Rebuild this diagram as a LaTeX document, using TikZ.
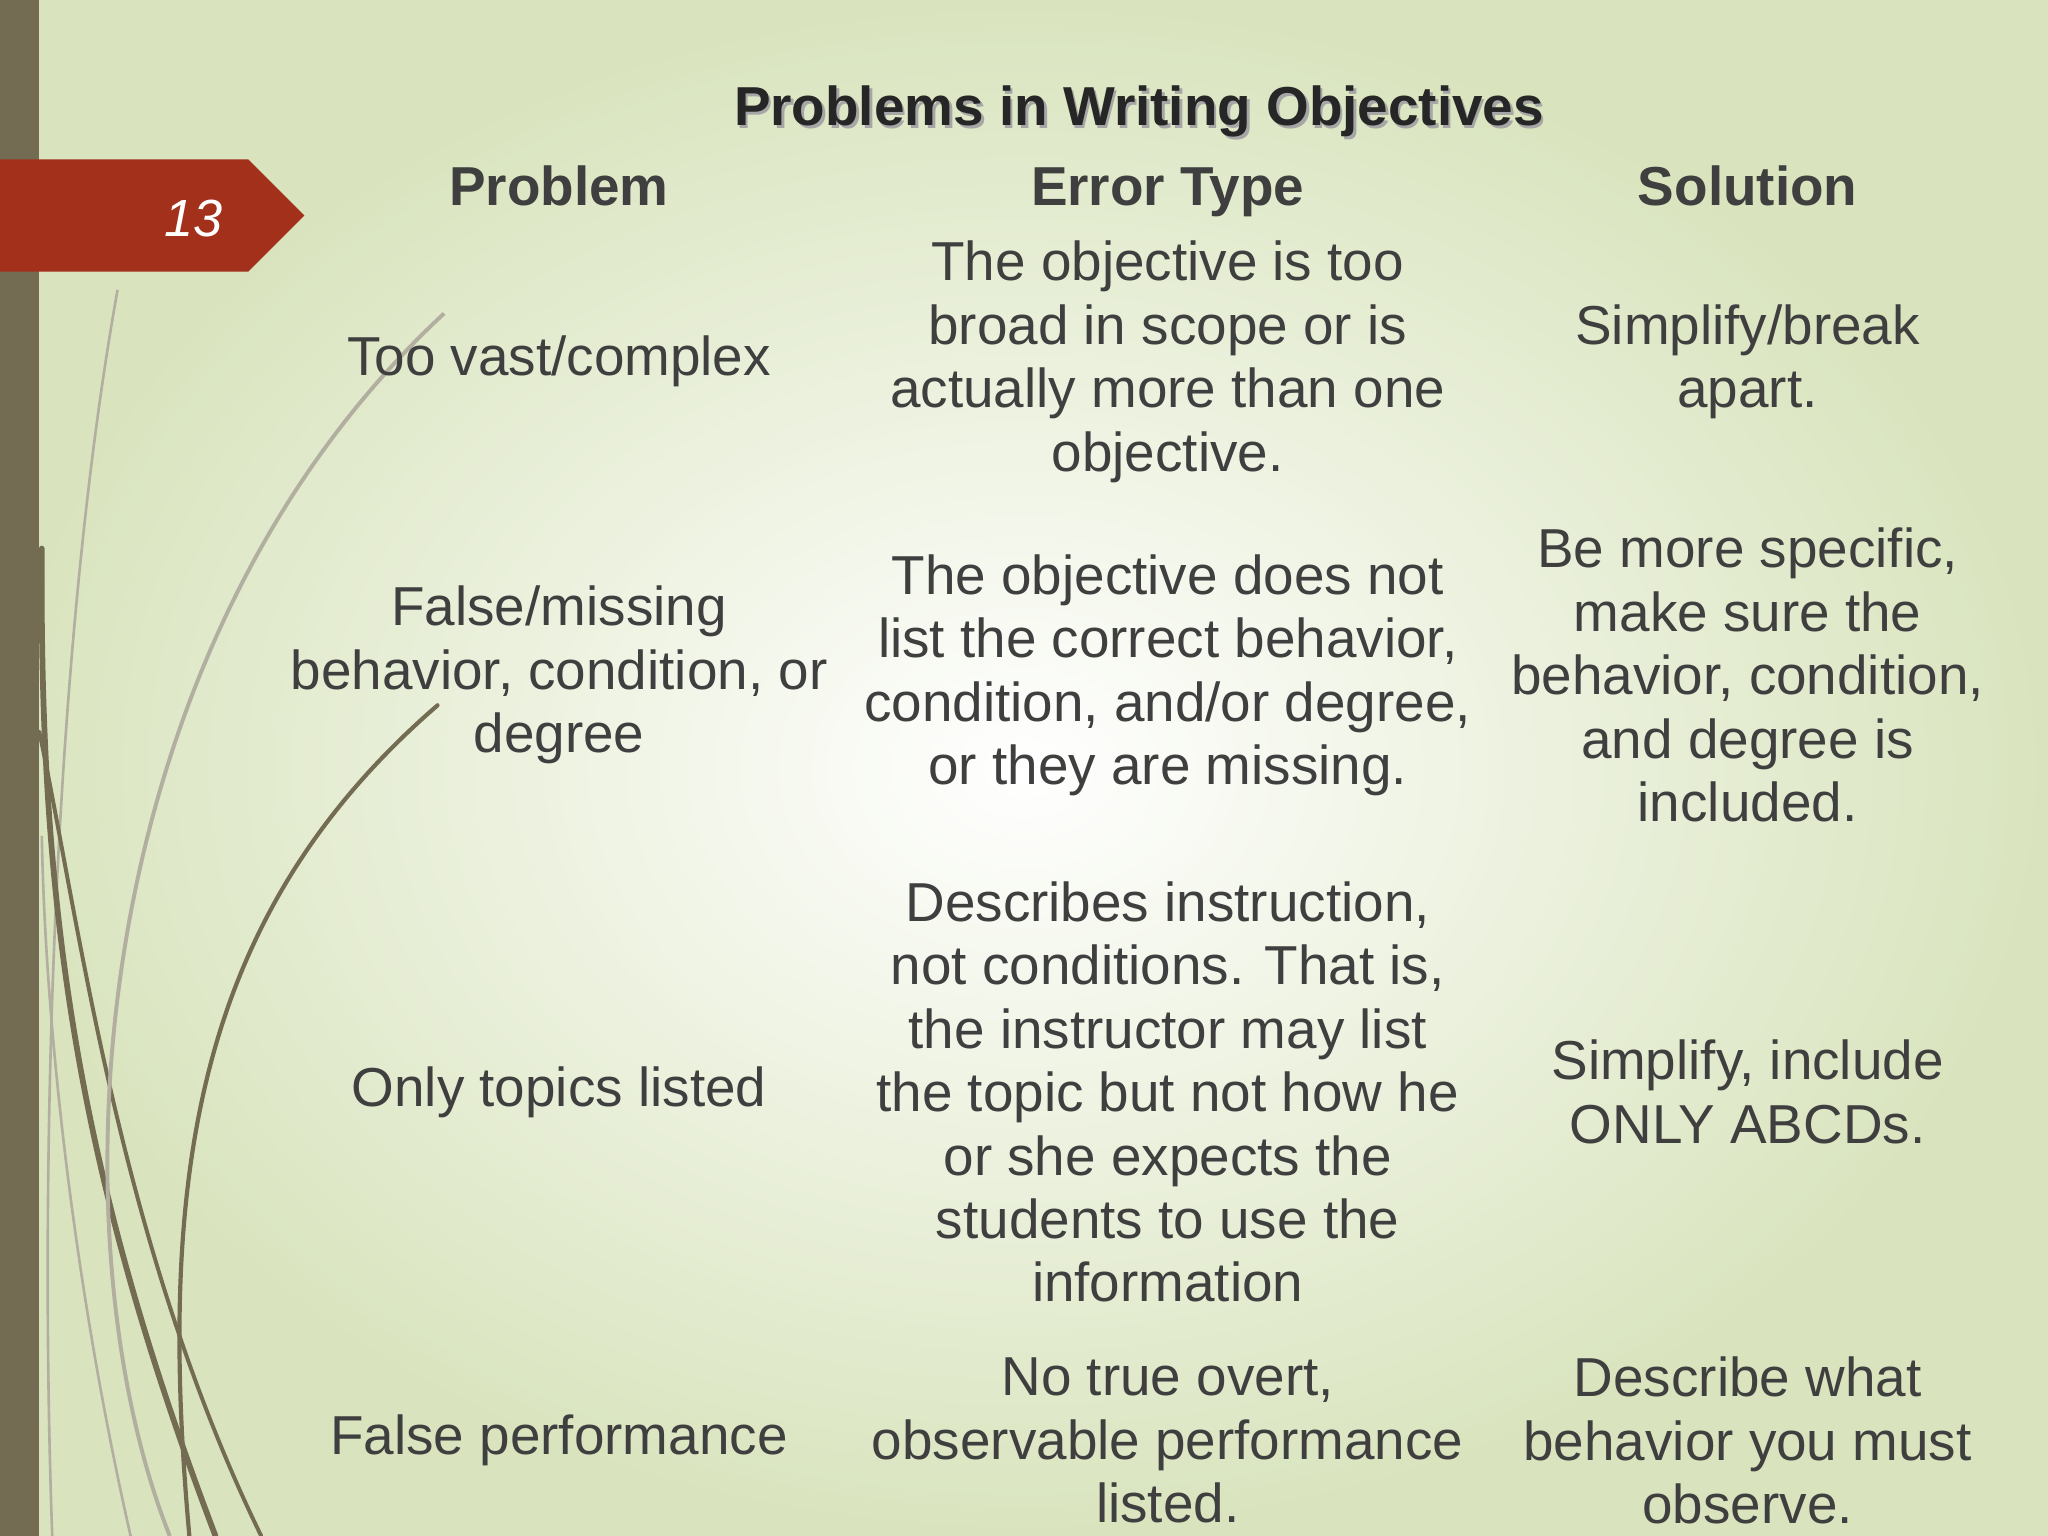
\documentclass[tikz,border=0pt]{standalone}
\usepackage{fontspec}
\setmainfont{Liberation Sans}
\usetikzlibrary{shadings}
\definecolor{txt}{HTML}{3F3F3F}
\definecolor{olive}{HTML}{736B52}
\definecolor{tagred}{HTML}{A3301A}
\definecolor{bggreen}{HTML}{D9E4BE}
\begin{document}
\begin{tikzpicture}[x=0.5pt,y=-0.5pt,
  body/.style={align=center,text=txt,font=\fontsize{21}{24.3}\selectfont,inner sep=0},
  head/.style={text=txt,font=\fontsize{21}{24}\selectfont\bfseries,inner sep=0,anchor=base},
  curve/.style={draw=olive,line width=2.2pt,line cap=round},
  thin/.style={draw=olive!55,line width=1pt}]
\useasboundingbox (0,0) rectangle (1568,1176);
\shade[inner color=white,outer color=bggreen] (0,0) rectangle (1568,1176);
% curves
\draw[thin] (40,1176) .. controls (30,900) and (40,500) .. (90,222);
\draw[curve] (165,1176) .. controls (60,900) and (30,700) .. (32,420);
\draw[curve,line width=1.5pt] (200,1176) .. controls (90,950) and (60,700) .. (30,560);
\draw[curve,line width=1.6pt] (145,1176) .. controls (120,900) and (150,700) .. (335,540);
\draw[thin,line width=1.5pt] (130,1176) .. controls (40,950) and (60,500) .. (340,240);
\draw[thin] (100,1176) .. controls (60,1000) and (35,800) .. (32,640);
% left bar
\fill[olive] (0,0) rectangle (30,1176);
% tag
\fill[tagred] (0,122) -- (190,122) -- (233,165) -- (190,208) -- (0,208) -- cycle;
\node[text=white,font=\fontsize{20}{24}\selectfont\itshape,inner sep=0] (num) at (148,167) {13};
% title
\node[font=\fontsize{21}{24}\selectfont\bfseries,text=gray!70,inner sep=0] (tsh) at (874,88) {Problems in Writing Objectives};
\node[font=\fontsize{21}{24}\selectfont\bfseries,text=black!85,inner sep=0] (title) at (872,85) {Problems in Writing Objectives};
% headers
\node[head] (h1) at (428,157) {Problem};
\node[head] (h2) at (894,157) {Error Type};
\node[head] (h3) at (1338,157) {Solution};
% row 1
\node[body] (p1) at (428,277) {Too vast/complex};
\node[body] (e1) at (894,277) {The objective is too\\broad in scope or is\\actually more than one\\objective.};
\node[body] (s1) at (1338,277) {Simplify/break\\apart.};
% row 2
\node[body] (p2) at (428,517) {False/missing\\behavior, condition, or\\degree};
\node[body] (e2) at (894,517) {The objective does not\\list the correct behavior,\\condition, and/or degree,\\or they are missing.};
\node[body] (s2) at (1338,517) {Be more specific,\\make sure the\\behavior, condition,\\and degree is\\included.};
% row 3
\node[body] (p3) at (428,836) {Only topics listed};
\node[body] (e3) at (894,836) {Describes instruction,\\not conditions. That is,\\the instructor may list\\the topic but not how he\\or she expects the\\students to use the\\information};
\node[body] (s3) at (1338,836) {Simplify, include\\ONLY ABCDs.};
% row 4
\node[body] (p4) at (428,1103) {False performance};
\node[body] (e4) at (894,1103) {No true overt,\\observable performance\\listed.};
\node[body] (s4) at (1338,1103) {Describe what\\behavior you must\\observe.};
\end{tikzpicture}
\end{document}
